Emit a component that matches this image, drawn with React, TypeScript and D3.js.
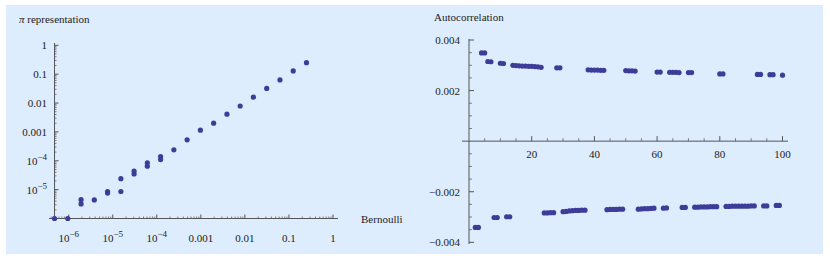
import * as d3 from 'd3';

// Left panel: pi representation vs Bernoulli (log-log)
const bernoulliX: number[] = [
  4.77e-7, 9.54e-7, 1.91e-6, 1.91e-6, 3.81e-6, 7.63e-6, 7.63e-6, 1.53e-5, 1.53e-5,
  3.05e-5, 3.05e-5, 6.10e-5, 6.10e-5, 1.22e-4, 1.22e-4, 2.44e-4, 4.88e-4, 9.77e-4,
  1.95e-3, 3.91e-3, 7.81e-3, 0.0156, 0.0313, 0.0625, 0.125, 0.25,
];
const piRepr: number[] = [
  1e-6, 1e-6, 4.5e-6, 3.2e-6, 4.4e-6, 8.6e-6, 7.6e-6, 2.4e-5, 8.6e-6,
  4.4e-5, 3.5e-5, 8.5e-5, 6.5e-5, 1.4e-4, 1.1e-4, 2.4e-4, 5.3e-4, 1.15e-3,
  2.0e-3, 4.1e-3, 7.9e-3, 0.016, 0.032, 0.063, 0.13, 0.25,
];
const logTickExp: number[] = [-6, -5, -4, -3, -2, -1, 0];
const logTickLabels: string[] = ['10|−6', '10|−5', '10|−4', '0.001', '0.01', '0.1', '1'];

// Right panel: autocorrelation by lag
const acLags: number[] = d3.range(2, 101);
const acValues: number[] = [
  -0.00341, -0.00341, 0.00349, 0.00349, 0.00315, 0.00314, -0.00302, -0.00302, 0.00308, 0.00307,
  -0.00299, -0.00299, 0.00300, 0.00299, 0.00298, 0.00297, 0.00297, 0.00296, 0.00296, 0.00295,
  0.00294, 0.00292, -0.00284, -0.00284, -0.00283, -0.00283, 0.00290, 0.00290, -0.00279, -0.00278,
  -0.00276, -0.00275, -0.00274, -0.00274, -0.00273, -0.00273, 0.00282, 0.00281, 0.00281, 0.00281,
  0.00280, 0.00280, -0.00271, -0.00270, -0.00270, -0.00270, -0.00269, -0.00269, 0.00279, 0.00278,
  0.00278, 0.00277, -0.00269, -0.00268, -0.00267, -0.00267, -0.00266, -0.00265, 0.00273, 0.00273,
  -0.00265, -0.00264, 0.00272, 0.00272, 0.00272, 0.00271, -0.00262, -0.00262, 0.00271, 0.00271,
  -0.00261, -0.00261, -0.00260, -0.00260, -0.00260, -0.00259, -0.00259, -0.00259, 0.00266, 0.00266,
  -0.00258, -0.00258, -0.00257, -0.00257, -0.00257, -0.00257, -0.00257, -0.00257, -0.00256, -0.00256,
  0.00264, 0.00264, -0.00256, -0.00256, 0.00263, 0.00263, -0.00254, -0.00254, 0.00261,
];
const acXTicks: number[] = [20, 40, 60, 80, 100];
const acYTicks: number[] = [-0.004, -0.002, 0.002, 0.004];

const W = 830;
const H = 260;
const dotColor = '#3d3d99';
const axisColor = '#555';
const font = "'Liberation Serif', 'Times New Roman', serif";

// minor ticks for log axis: 2..9 times each decade
const minorLog = (lo: number, hi: number) => {
  const out: number[] = [];
  for (let e = -7; e <= 0; e++) {
    for (let m = 2; m <= 9; m++) {
      const v = m * Math.pow(10, e);
      if (v >= lo && v <= hi) out.push(v);
    }
  }
  return out;
};

const SupLabel = (props: { x: number; y: number; text: string; anchor: string }) => {
  const parts = props.text.split('|');
  if (parts.length === 1) {
    return <text x={props.x} y={props.y} textAnchor={props.anchor}>{parts[0]}</text>;
  }
  return (
    <text x={props.x} y={props.y} textAnchor={props.anchor}>
      {parts[0]}
      <tspan dy={-5} fontSize={9}>{parts[1]}</tspan>
    </text>
  );
};

export default function App() {
  // left scales
  const xL: any = d3.scaleLog().domain([1e-6, 1]).range([68.7, 333]);
  const yL: any = d3.scaleLog().domain([1e-6, 1]).range([218.5, 45.3]);
  const axL = xL(bernoulliX[0]);
  const ayL = yL(1e-6);

  // right scales
  const xR: any = d3.scaleLinear().domain([0, 100]).range([469, 782.5]);
  const yR: any = d3.scaleLinear().domain([-0.004, 0.004]).range([242.3, 40]);
  const axR = xR(0);
  const ayR = yR(0);

  const xMinorL = minorLog(4e-7, 1);
  const yMinorL = minorLog(1e-6, 1);
  const xMinorR = d3.range(5, 101, 5).filter((v: number) => v % 20 !== 0);
  const yMinorR = d3.range(-0.004, 0.00401, 0.0005).filter((v: number) => Math.abs(Math.round(v * 10000)) % 20 !== 0);

  return (
    <svg width={W} height={H} style={{ position: 'absolute', left: 0, top: 0 }} fontFamily={font} fontSize={11}>
      <rect x={0} y={0} width={W} height={H} fill="#fff" />
      <rect x={6} y={5} width={817} height={249} fill="#ddedfd" />

      {/* left panel */}
      <text x={19} y={23} fill="#222"><tspan fontStyle="italic">π</tspan> representation</text>
      <g stroke={axisColor} strokeWidth={1}>
        <line x1={49} x2={338} y1={ayL} y2={ayL} />
        <line x1={axL} x2={axL} y1={43} y2={ayL} />
        {logTickExp.map((e) => (
          <line key={'xm' + e} x1={xL(Math.pow(10, e))} x2={xL(Math.pow(10, e))} y1={ayL} y2={ayL - 4} />
        ))}
        {xMinorL.map((v, i) => (
          <line key={'xn' + i} x1={xL(v)} x2={xL(v)} y1={ayL} y2={ayL - 2} strokeWidth={0.7} />
        ))}
        {logTickExp.map((e) => (
          <line key={'ym' + e} x1={axL} x2={axL + 4} y1={yL(Math.pow(10, e))} y2={yL(Math.pow(10, e))} />
        ))}
        {yMinorL.map((v, i) => (
          <line key={'yn' + i} x1={axL} x2={axL + 2} y1={yL(v)} y2={yL(v)} strokeWidth={0.7} />
        ))}
      </g>
      <g fill="#222">
        {logTickExp.map((e, i) => (
          <SupLabel key={'xl' + e} x={xL(Math.pow(10, e))} y={242} text={logTickLabels[i]} anchor="middle" />
        ))}
        {logTickExp.slice(1).map((e, i) => (
          <SupLabel key={'yl' + e} x={47} y={yL(Math.pow(10, e)) + 4} text={logTickLabels[i + 1]} anchor="end" />
        ))}
        <text x={361} y={ayL + 4}>Bernoulli</text>
      </g>
      <g fill={dotColor}>
        {bernoulliX.map((x, i) => (
          <circle key={'p' + i} cx={xL(x)} cy={yL(piRepr[i])} r={2.6} />
        ))}
      </g>

      {/* right panel */}
      <text x={434} y={21} fill="#222">Autocorrelation</text>
      <g stroke={axisColor} strokeWidth={1}>
        <line x1={462} x2={788} y1={ayR} y2={ayR} />
        <line x1={axR} x2={axR} y1={39} y2={244} />
        {acXTicks.map((t) => (
          <line key={'rxm' + t} x1={xR(t)} x2={xR(t)} y1={ayR} y2={ayR - 5} />
        ))}
        {xMinorR.map((t: number) => (
          <line key={'rxn' + t} x1={xR(t)} x2={xR(t)} y1={ayR} y2={ayR - 3} strokeWidth={0.7} />
        ))}
        {acYTicks.map((t) => (
          <line key={'rym' + t} x1={axR} x2={axR + 5} y1={yR(t)} y2={yR(t)} />
        ))}
        {yMinorR.map((t: number, i: number) => (
          <line key={'ryn' + i} x1={axR} x2={axR + 3} y1={yR(t)} y2={yR(t)} strokeWidth={0.7} />
        ))}
      </g>
      <g fill="#222">
        {acXTicks.map((t) => (
          <text key={'rxl' + t} x={xR(t)} y={ayR + 17} textAnchor="middle">{t}</text>
        ))}
        {acYTicks.map((t) => (
          <text key={'ryl' + t} x={460} y={yR(t) + 4} textAnchor="end">
            {d3.format('.3f')(t).replace('-', '−')}
          </text>
        ))}
      </g>
      <g fill={dotColor}>
        {acLags.map((lag, i) => (
          <circle key={'a' + lag} cx={xR(lag)} cy={yR(acValues[i])} r={2.6} />
        ))}
      </g>
    </svg>
  );
}
